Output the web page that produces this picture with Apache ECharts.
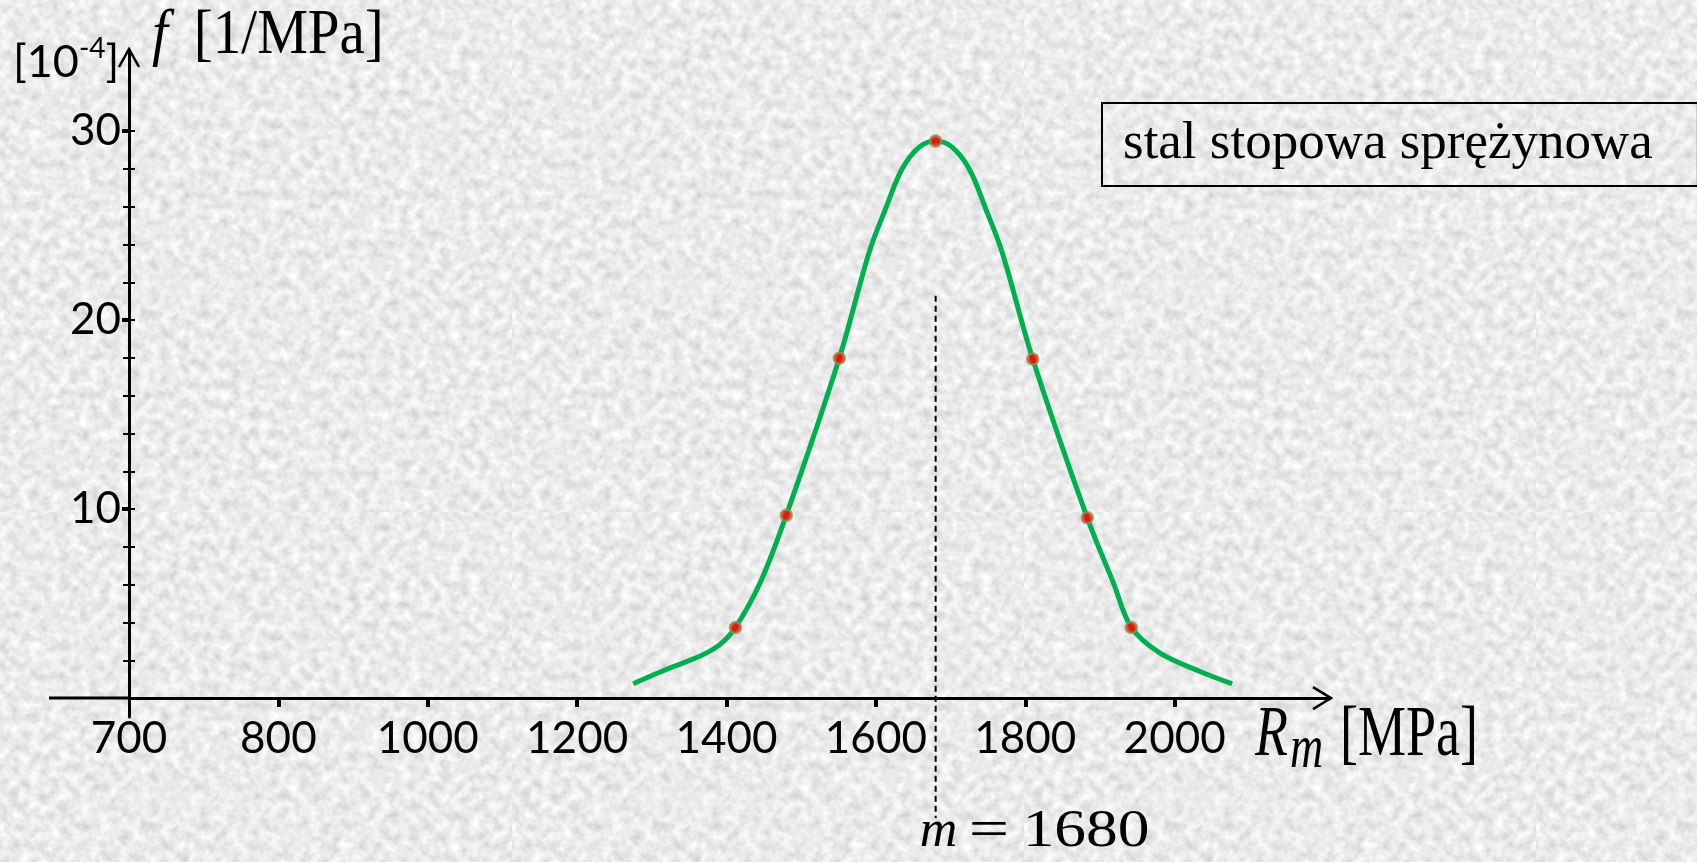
<!DOCTYPE html>
<html>
<head>
<meta charset="utf-8">
<script src="https://cdn.jsdelivr.net/npm/echarts@6/dist/echarts.min.js"></script>
<style>
  html, body { margin: 0; padding: 0; width: 1697px; height: 862px; overflow: hidden; }
  body { background-color: #d6d6d6; }
  #chart { width: 1697px; height: 862px; }
</style>
</head>
<body>
<div id="chart"></div>
<script>
// Density curve of tensile strength R_m for alloy spring steel
const seriesName = 'stal stopowa sprężynowa';

// Samples along the drawn density curve: R_m [MPa] and f [1e-4 / MPa]
const curveRm      = [1275, 1324, 1364, 1391, 1412, 1445, 1480, 1551, 1591, 1613, 1635, 1658, 1680, 1702, 1725, 1747, 1769, 1810, 1883, 1918, 1942, 1980, 2034, 2077];
const curveDensity = [0.76, 1.59, 2.21, 2.83, 3.74, 6.10, 9.68, 17.99, 23.6, 25.9, 28.0, 29.16, 29.48, 29.16, 28.0, 25.9, 23.6, 17.95, 9.54, 6.10, 3.74, 2.39, 1.41, 0.76];

// Highlighted points on the curve
const pointRm      = [1412, 1480, 1551, 1680, 1810, 1883, 1942];
const pointDensity = [3.74, 9.68, 17.99, 29.48, 17.95, 9.54, 3.74];

// Mean value marked under the peak
const meanRm = 1680;

// Axis ticks (the first x tick sits at the axis break and reads 700)
const xTickValues = [600, 800, 1000, 1200, 1400, 1600, 1800, 2000];
const xTickLabels = ['700', '800', '1000', '1200', '1400', '1600', '1800', '2000'];
const yMajorTicks = [10, 20, 30];
const yMinorTicks = [2, 4, 6, 8, 12, 14, 16, 18, 22, 24, 26, 28];

// Granite-like slide backdrop
const grain = "<svg xmlns='http://www.w3.org/2000/svg' width='512' height='512'>" +
  "<filter id='g'><feTurbulence type='fractalNoise' baseFrequency='0.1' numOctaves='4' seed='7'/>" +
  "<feColorMatrix type='matrix' values='0.5 0 0 0 0.58  0.5 0 0 0 0.58  0.5 0 0 0 0.58  0 0 0 0 1'/></filter>" +
  "<rect width='512' height='512' filter='url(#g)'/></svg>";
document.body.style.backgroundImage = 'url("data:image/svg+xml,' + encodeURIComponent(grain) + '")';

const serif = '"Liberation Serif", "Times New Roman", serif';
const sans = 'Lato, "Open Sans", sans-serif';
const black = '#000000';

const chart = echarts.init(document.getElementById('chart'), null, { renderer: 'canvas' });

const yRange = { min: -1, max: 34.3 };
const allYTicks = yMinorTicks.concat(yMajorTicks);

const option = {
  backgroundColor: 'transparent',
  animation: false,
  grid: { left: 129, right: 367, top: 50, bottom: 145, containLabel: false, outerBoundsMode: 'none' },
  legend: {
    data: [{ name: seriesName, icon: 'none' }],
    left: 1102,
    top: 103,
    itemWidth: 0,
    itemHeight: 0,
    itemGap: 0,
    padding: [11, 45, 12, 16],
    borderColor: black,
    borderWidth: 2,
    selectedMode: false,
    textStyle: { fontFamily: serif, fontSize: 53, color: black, lineHeight: 60 }
  },
  xAxis: {
    type: 'value',
    min: 600,
    max: 2208,
    splitLine: { show: false },
    axisLine: { show: true, onZero: true, lineStyle: { color: black, width: 3 } },
    axisTick: { show: true, customValues: xTickValues.slice(1), length: 9, lineStyle: { color: black, width: 4 } },
    axisLabel: {
      customValues: xTickValues,
      formatter: function (v) {
        const i = xTickValues.indexOf(v);
        return i >= 0 ? xTickLabels[i] : '';
      },
      margin: 0,
      fontFamily: sans,
      fontSize: 44,
      lineHeight: 44,
      color: black
    }
  },
  yAxis: [
    {
      type: 'value',
      position: 'left',
      min: yRange.min,
      max: yRange.max,
      splitLine: { show: false },
      axisLine: { show: true, lineStyle: { color: black, width: 3 } },
      axisTick: { show: true, customValues: allYTicks, length: 6, lineStyle: { color: black, width: 2 } },
      axisLabel: { customValues: yMajorTicks, margin: 8, fontFamily: sans, fontSize: 44, color: black }
    },
    {
      type: 'value',
      position: 'left',
      min: yRange.min,
      max: yRange.max,
      splitLine: { show: false },
      axisLine: { show: false },
      axisTick: { show: true, inside: true, customValues: allYTicks, length: 6, lineStyle: { color: black, width: 2 } },
      axisLabel: { show: false }
    },
    {
      type: 'value',
      position: 'left',
      min: yRange.min,
      max: yRange.max,
      splitLine: { show: false },
      axisLine: { show: false },
      axisTick: { show: true, customValues: yMajorTicks, length: 7, lineStyle: { color: black, width: 4 } },
      axisLabel: { show: false }
    }
  ],
  series: [
    {
      name: seriesName,
      type: 'line',
      data: curveRm.map((r, i) => [r, curveDensity[i]]),
      smooth: 0.35,
      showSymbol: false,
      lineStyle: { color: '#00b050', width: 5 },
      itemStyle: { color: '#00b050' },
      z: 2
    },
    {
      name: 'punkty',
      type: 'scatter',
      data: pointRm.map((r, i) => [r, pointDensity[i]]),
      symbol: 'circle',
      symbolSize: 11,
      itemStyle: { color: '#ff0000', borderColor: '#9c8a4e', borderWidth: 2.5 },
      z: 3
    }
  ]
};

chart.setOption(option);

// Axis arrows, axis break extension, mean marker and axis titles
const px = (x, y) => chart.convertToPixel({ xAxisIndex: 0, yAxisIndex: 0 }, [x, y]);
const origin = px(600, 0);
const xEnd = px(2208, 0);
const yTop = px(600, yRange.max);
const meanTop = px(meanRm, 21.3);
const lineBottom = 818;

const txt = (x, y, text, font, size, opts) => Object.assign({
  type: 'text', x: x, y: y, z: 10,
  style: Object.assign({ text: text, fontFamily: font, fontSize: size, fill: black, verticalAlign: 'middle', align: 'left' }, (opts && opts.style) || {})
}, (opts && opts.el) || {});

chart.setOption({
  graphic: [
    { type: 'line', shape: { x1: 49, y1: origin[1], x2: origin[0], y2: origin[1] }, style: { stroke: black, lineWidth: 3 } },
    { type: 'polyline', shape: { points: [[xEnd[0] - 17, origin[1] - 11], [xEnd[0] + 1, origin[1]], [xEnd[0] - 17, origin[1] + 11]] }, style: { stroke: black, lineWidth: 2.5, fill: null } },
    { type: 'polyline', shape: { points: [[origin[0] - 10, yTop[1] + 17], [origin[0], yTop[1] - 1], [origin[0] + 10, yTop[1] + 17]] }, style: { stroke: black, lineWidth: 2.5, fill: null } },
    { type: 'line', shape: { x1: meanTop[0], y1: meanTop[1], x2: meanTop[0], y2: lineBottom }, style: { stroke: black, lineWidth: 2, lineDash: [6, 4] } },

    // m = 1680
    txt(meanTop[0] - 16, 832, 'm', serif, 52, { style: { fontStyle: 'italic' } }),
    txt(meanTop[0] + 33, 832, '=', serif, 52, { el: { scaleX: 1.38 } }),
    txt(meanTop[0] + 87, 832, String(meanRm), serif, 52, { el: { scaleX: 1.22 } }),

    // y axis unit and title
    {
      type: 'text', x: 13, y: 62, z: 10,
      style: {
        text: '{a|[10}{s|-4}{a|]}',
        verticalAlign: 'middle', align: 'left',
        rich: {
          a: { fontFamily: sans, fontSize: 45, fill: black, lineHeight: 54 },
          s: { fontFamily: sans, fontSize: 28, fill: black, verticalAlign: 'top', lineHeight: 54 }
        }
      }
    },
    {
      type: 'text', x: origin[0] + 23, y: 37, z: 10, scaleY: 1.1,
      style: {
        text: '{i|f}{n|[1/MPa]}',
        verticalAlign: 'middle', align: 'left',
        rich: {
          i: { fontFamily: serif, fontStyle: 'italic', fontSize: 57, fill: black },
          n: { fontFamily: serif, fontSize: 57, fill: black, padding: [0, 0, 0, 26] }
        }
      }
    },

    // x axis title R_m [MPa]
    txt(1255, 736, 'R', serif, 54, { style: { fontStyle: 'italic' }, el: { scaleY: 1.33 } }),
    txt(1290, 751, 'm', serif, 46, { style: { fontStyle: 'italic' }, el: { scaleY: 1.33 } }),
    txt(1340, 736, '[MPa]', serif, 54, { el: { scaleY: 1.33 } })
  ]
});
</script>
</body>
</html>
